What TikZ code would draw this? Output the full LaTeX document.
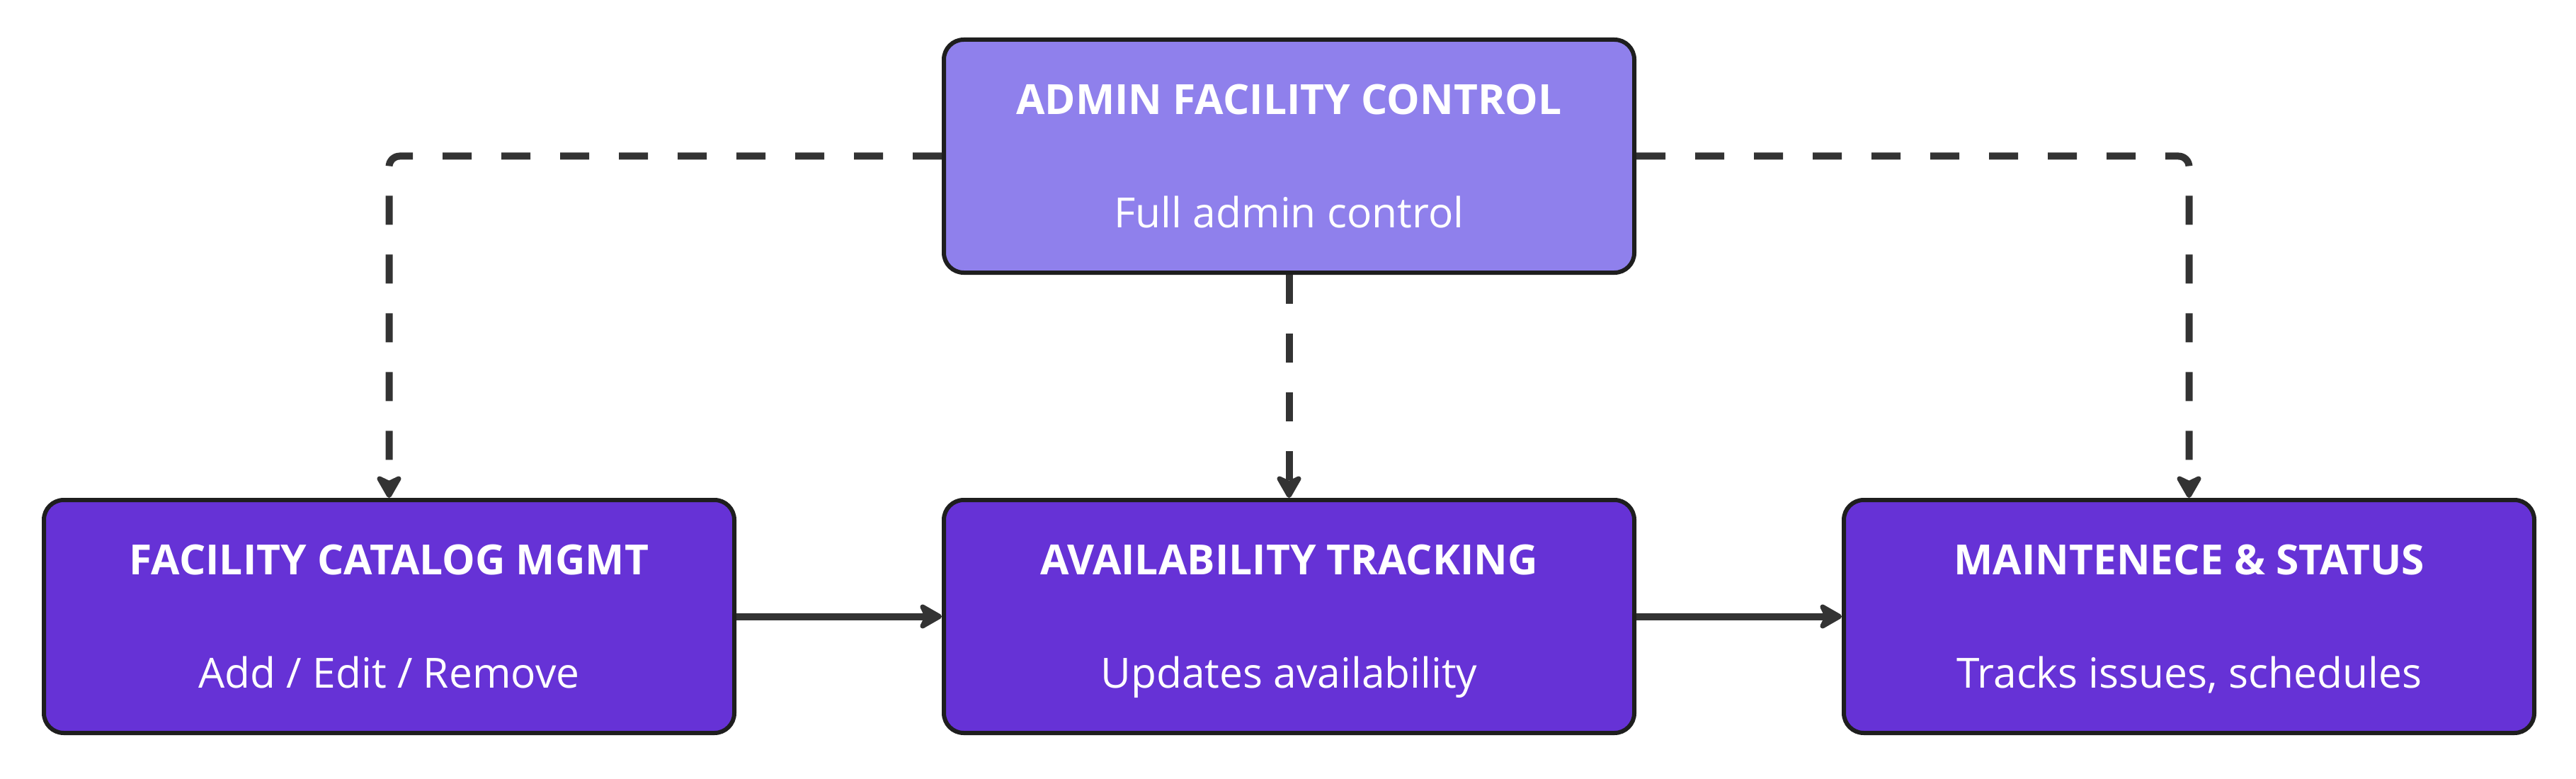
\documentclass[tikz,border=0pt]{standalone}
\usepackage{fontspec}
\setmainfont{Open Sans}
\usetikzlibrary{arrows.meta,positioning}
\definecolor{adminfill}{HTML}{8F80EC}
\definecolor{stagefill}{HTML}{6632D6}
\definecolor{boxline}{HTML}{1E1E1E}
\definecolor{flowline}{HTML}{333333}
\tikzset{
  stage/.style={draw=boxline,line width=0.06cm,fill=stagefill,rounded corners=0.28cm,
    minimum width=9.75cm,minimum height=3.29cm,inner sep=0pt,align=center,
    text=white,font=\fontsize{16.7}{19.8}\selectfont},
  adminbox/.style={stage,fill=adminfill},
  flow/.style={draw=flowline,line width=0.1cm,
    -{Stealth[length=0.38cm,width=0.43cm,inset=0.1cm,round]}},
  dashflow/.style={flow,dash pattern=on 0.41cm off 0.42cm,rounded corners=0.15cm}
}
\newcommand{\stagetext}[2]{\rule{0pt}{0.6cm}\textbf{#1}\\[0.9cm]#2\rule[-0.18cm]{0pt}{0.18cm}}

\begin{document}
\begin{tikzpicture}
  \useasboundingbox (0,0) rectangle (36.38,10.99);
  \node [adminbox] (admin) at (18.205,8.785)
  {\stagetext{ADMIN FACILITY CONTROL}{Full admin control}};
  \node [stage,below=3.15cm of admin] (avail)
  {\stagetext{AVAILABILITY TRACKING}{Updates availability}};
  \node [stage,left=2.9cm of avail] (catalog)
  {\stagetext{FACILITY CATALOG MGMT}{Add / Edit / Remove}};
  \node [stage,right=2.9cm of avail] (maint)
  {\stagetext{MAINTENECE \& STATUS}{Tracks issues, schedules}};
  \draw [flow] (catalog) -- (avail);
  \draw [flow] (avail) -- (maint);
  \draw [dashflow] (admin.west) -| (catalog.north);
  \draw [dashflow] (admin) -- (avail);
  \draw [dashflow] (admin.east) -| (maint.north);
\end{tikzpicture}
\end{document}
